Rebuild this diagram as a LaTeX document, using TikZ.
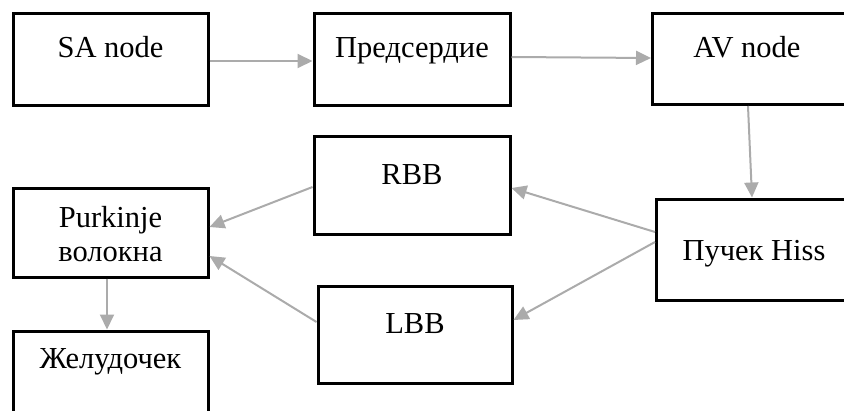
\documentclass[tikz,border=0pt]{standalone}
\usepackage{fontspec}
\setmainfont{Liberation Serif}
\usetikzlibrary{arrows.meta}
\begin{document}
\begin{tikzpicture}[x=1pt,y=-1pt,
  box/.style={draw=black, line width=3pt, rectangle, inner sep=0pt},
  lbl/.style={anchor=base, inner sep=0pt, font=\fontsize{30.5}{35}\selectfont},
  conn/.style={draw=black!33, line width=2pt, -{Triangle[length=15pt,width=14pt]}}]
\useasboundingbox (0,0) rectangle (844,410);
\clip (0,0) rectangle (844,410);
% boxes
\node[box, minimum width=195pt, minimum height=92pt] (sa) at (110.5,59) {};
\node[box, minimum width=196pt, minimum height=92pt] (pr) at (412,59) {};
\node[box, minimum width=205pt, minimum height=91pt] (av) at (755,59) {};
\node[box, minimum width=196pt, minimum height=98pt] (rbb) at (412,185) {};
\node[box, minimum width=194pt, minimum height=97pt] (lbb) at (415,334.5) {};
\node[box, minimum width=195pt, minimum height=89pt] (pk) at (110.5,232.5) {};
\node[box, minimum width=195pt, minimum height=90pt] (zh) at (110.5,376) {};
\node[box, minimum width=201pt, minimum height=101pt] (hs) at (757,249.5) {};
% labels
\node[lbl] (tsa) at (110.5,57) {SA node};
\node[lbl] (tpr) at (412,57) {Предсердие};
\node[lbl] (tav) at (747,57) {AV node};
\node[lbl] (trbb) at (412,184) {RBB};
\node[lbl] (tlbb) at (415,333) {LBB};
\node[lbl] (tpk1) at (110.5,227) {Purkinje};
\node[lbl] (tpk2) at (110.5,261) {волокна};
\node[lbl] (tzh) at (110.5,368) {Желудочек};
\node[lbl] (ths) at (754,260) {Пучек Hiss};
% connectors
\draw[conn] ([yshift=-2pt]sa.east) -- ([yshift=-2pt]pr.west);
\draw[conn] ([yshift=2pt]pr.east) -- ([yshift=1pt]av.west);
\draw[conn] ([xshift=-7pt]av.south) -- ([xshift=-5pt]hs.north);
\draw[conn] ([yshift=17.5pt]hs.west) -- ([yshift=-3pt]rbb.east);
\draw[conn] ([yshift=7.5pt]hs.west) -- ([yshift=14.5pt]lbb.east);
\draw[conn] ([yshift=-2pt]rbb.west) -- ([yshift=5.5pt]pk.east);
\draw[conn] ([yshift=12.5pt]lbb.west) -- ([yshift=-23.5pt]pk.east);
\draw[conn] ([xshift=-3.5pt]pk.south) -- ([xshift=-3.5pt]zh.north);
\end{tikzpicture}
\end{document}
